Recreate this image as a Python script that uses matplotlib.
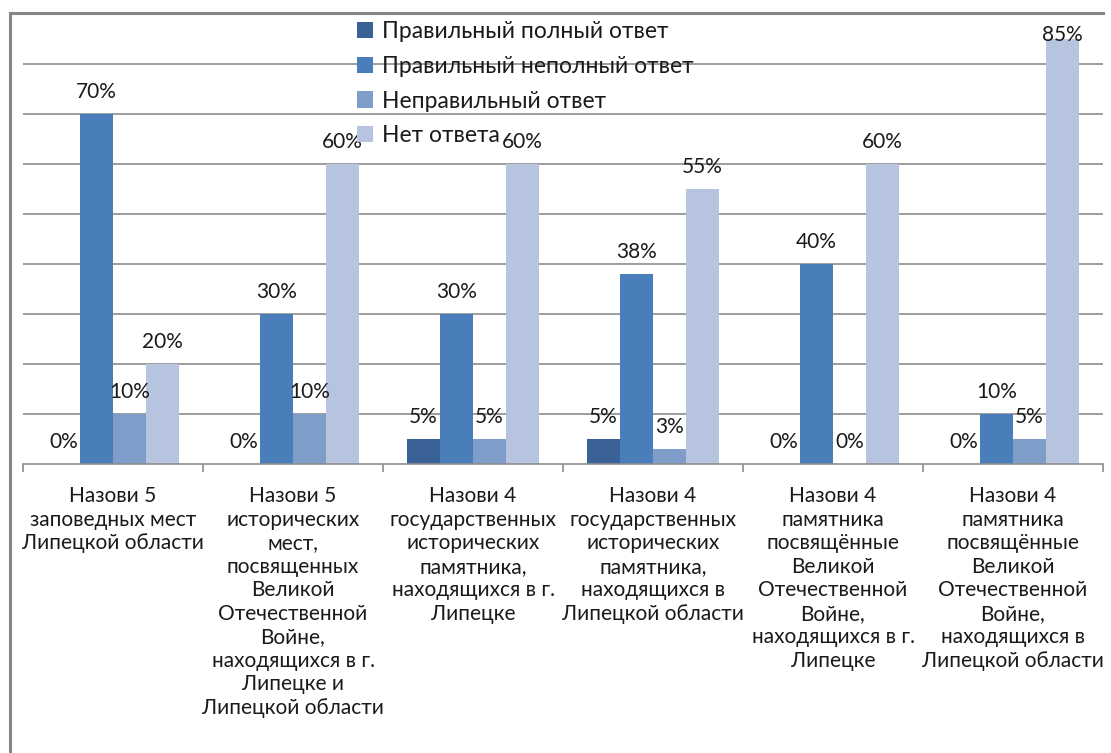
import matplotlib
matplotlib.use("Agg")
import matplotlib.pyplot as plt
from matplotlib.lines import Line2D
import numpy as np

plt.rcParams['font.family'] = ['Lato', 'DejaVu Sans']

categories = [
    "Назови 5\nзаповедных мест\nЛипецкой области",
    "Назови 5\nисторических\nмест,\nпосвященных\nВеликой\nОтечественной\nВойне,\nнаходящихся в г.\nЛипецке и\nЛипецкой области",
    "Назови 4\nгосударственных\nисторических\nпамятника,\nнаходящихся в г.\nЛипецке",
    "Назови 4\nгосударственных\nисторических\nпамятника,\nнаходящихся в\nЛипецкой области",
    "Назови 4\nпамятника\nпосвящённые\nВеликой\nОтечественной\nВойне,\nнаходящихся в г.\nЛипецке",
    "Назови 4\nпамятника\nпосвящённые\nВеликой\nОтечественной\nВойне,\nнаходящихся в\nЛипецкой области",
]

series_names = [
    "Правильный полный ответ",
    "Правильный неполный ответ",
    "Неправильный ответ",
    "Нет ответа",
]
full_correct = [0, 0, 5, 5, 0, 0]
partial_correct = [70, 30, 30, 38, 40, 10]
wrong = [10, 10, 5, 3, 0, 5]
no_answer = [20, 60, 60, 55, 60, 85]
series_values = [full_correct, partial_correct, wrong, no_answer]
colors = ["#3B6297", "#4A7EBB", "#7E9DC9", "#B7C4DF"]

W, H = 1111, 753
fig = plt.figure(figsize=(W / 100, H / 100), dpi=100)
fig.patch.set_facecolor("white")

# plot area in pixel units
left, right, top, bottom = 23, 1103, 14, 464
ax = fig.add_axes([left / W, 1 - bottom / H, (right - left) / W, (bottom - top) / H])

n = len(categories)
x = np.arange(n)
bw = 33 / 180
offsets = (np.arange(4) - 1.5) * bw
ymax = 90

for vals, name, col, off in zip(series_values, series_names, colors, offsets):
    bars = ax.bar(x + off, vals, width=bw, color=col, label=name, zorder=2, linewidth=0)
    for b, v in zip(bars, vals):
        # labels that would run past the top edge sit on the bar instead
        dy = 11.5 if v < 80 else -1.5
        ax.annotate(f"{v}%", (b.get_x() + b.get_width() / 2, v),
                    xytext=(0, dy), textcoords="offset points",
                    ha="center", va="baseline", fontsize=15, color="#1a1a1a", zorder=4)

ax.set_xlim(-0.5, n - 0.5)
ax.set_ylim(0, ymax)
ax.set_yticks(np.arange(10, ymax, 10))
ax.yaxis.grid(True, color="#8c8c8c", linewidth=1.2, zorder=0)
ax.set_axisbelow(True)
ax.tick_params(axis="y", left=False, labelleft=False)

for s in ["left", "right", "top"]:
    ax.spines[s].set_visible(False)
ax.spines["bottom"].set_color("#8c8c8c")
ax.spines["bottom"].set_linewidth(1.2)

ax.set_xticks(x)
ax.set_xticklabels(categories, fontsize=15, color="#1a1a1a", linespacing=1.22, va="top")
ax.tick_params(axis="x", which="major", length=0, pad=16)
ax.set_xticks(np.arange(-0.5, n, 1.0), minor=True)
ax.tick_params(axis="x", which="minor", length=6, color="#8c8c8c", width=1.2)

leg = ax.legend(loc="upper left", bbox_to_anchor=(357 / W, 1 - 21 / H),
                bbox_transform=fig.transFigure, frameon=False, fontsize=16.5,
                handlelength=0.7, handleheight=0.7, handletextpad=0.4,
                labelspacing=0.6, borderpad=0, borderaxespad=0)
for t in leg.get_texts():
    t.set_color("#1a1a1a")

# chart frame
fig.add_artist(Line2D([10 / W, 10 / W], [0, 1 - 13 / H], color="#868686", linewidth=2.2,
                      transform=fig.transFigure))
fig.add_artist(Line2D([10 / W, 1103 / W], [1 - 13 / H, 1 - 13 / H], color="#868686",
                      linewidth=2.2, transform=fig.transFigure))

fig.savefig("out.png", dpi=100)
